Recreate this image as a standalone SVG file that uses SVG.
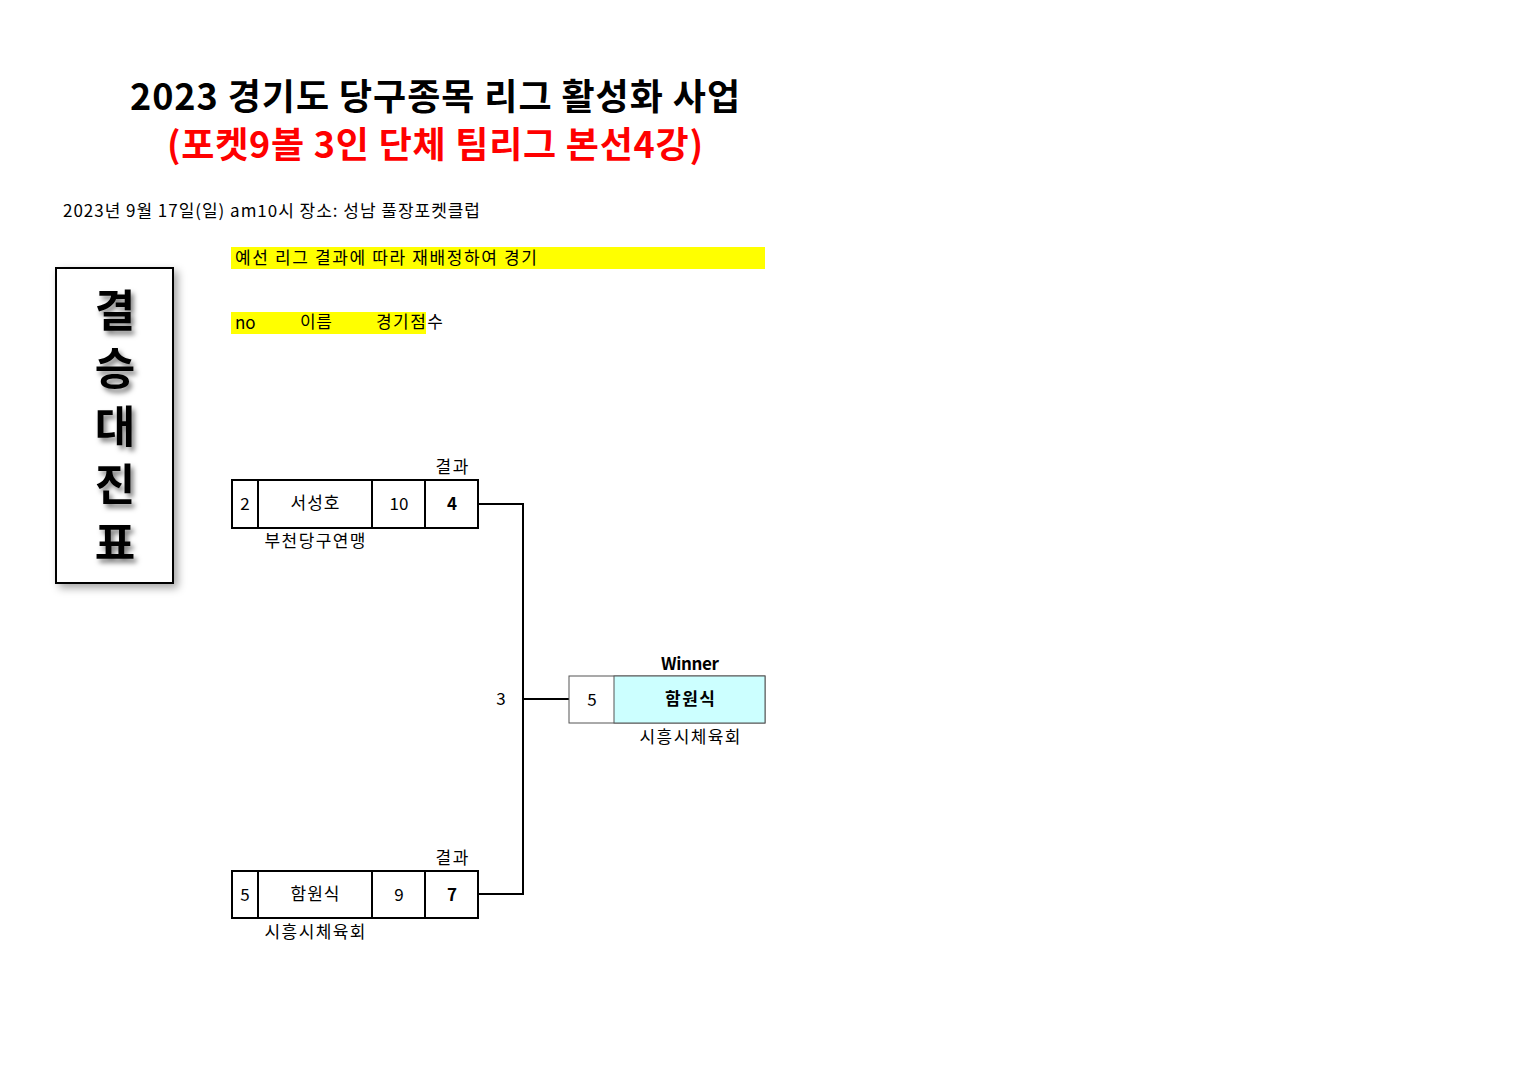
<svg xmlns="http://www.w3.org/2000/svg" width="1527" height="1080" viewBox="0 0 1527 1080">
<style>
text{font-family:"Noto Sans CJK KR","Noto Sans",sans-serif;fill:#000}
.t{font-size:17px}
.c{text-anchor:middle}
.b{font-weight:bold}
.box{fill:#fff;stroke:#000;stroke-width:2}
.ln{fill:none;stroke:#000;stroke-width:2}
.yl{fill:#ffff00}
</style>
<defs>
<filter id="sh" x="-20%" y="-20%" width="150%" height="150%">
<feDropShadow dx="4" dy="4" stdDeviation="4" flood-color="#000" flood-opacity="0.35"/>
</filter>
<filter id="tsh" x="-50%" y="-20%" width="200%" height="140%">
<feDropShadow dx="3" dy="4" stdDeviation="2.5" flood-color="#000" flood-opacity="0.5"/>
</filter>
</defs>
<rect width="1527" height="1080" fill="#fff"/>
<g id="title">
<text x="130" y="110" class="b" font-size="36" textLength="610" lengthAdjust="spacing">2023 경기도 당구종목 리그 활성화 사업</text>
<text x="167" y="158" class="b" font-size="36" style="fill:#ff0000" textLength="536" lengthAdjust="spacing">(포켓9볼 3인 단체 팀리그 본선4강)</text>
<text x="63" y="217" class="t" textLength="417" lengthAdjust="spacing">2023년 9월 17일(일) am10시  장소: 성남 풀장포켓클럽</text>
</g>
<g id="notes">
<rect x="231" y="247" width="534" height="22" class="yl"/>
<text x="235" y="264" class="t" textLength="302" lengthAdjust="spacing">예선 리그 결과에 따라 재배정하여 경기</text>
<rect x="231" y="312" width="195" height="22" class="yl"/>
<text x="235" y="329" class="t">no</text>
<text x="300" y="328" class="t" textLength="32" lengthAdjust="spacing">이름</text>
<text x="376" y="328" class="t" textLength="67" lengthAdjust="spacing">경기점수</text>
</g>
<g id="label">
<rect x="56" y="268" width="117" height="315" fill="#fff" stroke="#000" stroke-width="2" filter="url(#sh)"/>
<text x="115" y="288" class="b" font-size="44" writing-mode="tb" letter-spacing="14" filter="url(#tsh)">결승대진표</text>
</g>
<g id="connectors">
<polyline points="478,504 523,504 523,894 478,894" class="ln"/>
<line x1="523" y1="699" x2="569" y2="699" class="ln"/>
<text x="501" y="705" class="t c">3</text>
</g>
<g id="match1">
<text x="452" y="473" class="t c" textLength="33" lengthAdjust="spacing">결과</text>
<rect x="232" y="480" width="246" height="48" class="box"/>
<line x1="258" y1="480" x2="258" y2="528" class="ln"/>
<line x1="372" y1="480" x2="372" y2="528" class="ln"/>
<line x1="425" y1="480" x2="425" y2="528" class="ln"/>
<text x="245" y="510" class="t c">2</text>
<text x="315" y="509" class="t c" textLength="49" lengthAdjust="spacing">서성호</text>
<text x="399" y="510" class="t c">10</text>
<text x="452" y="510" class="t c b">4</text>
<text x="315" y="547" class="t c" textLength="101" lengthAdjust="spacing">부천당구연맹</text>
</g>
<g id="match2">
<text x="452" y="864" class="t c" textLength="33" lengthAdjust="spacing">결과</text>
<rect x="232" y="871" width="246" height="47" class="box"/>
<line x1="258" y1="871" x2="258" y2="918" class="ln"/>
<line x1="372" y1="871" x2="372" y2="918" class="ln"/>
<line x1="425" y1="871" x2="425" y2="918" class="ln"/>
<text x="245" y="901" class="t c">5</text>
<text x="315" y="900" class="t c" textLength="49" lengthAdjust="spacing">함원식</text>
<text x="399" y="901" class="t c">9</text>
<text x="452" y="901" class="t c b">7</text>
<text x="315" y="938" class="t c" textLength="101" lengthAdjust="spacing">시흥시체육회</text>
</g>
<g id="winner">
<text x="690" y="670" class="t c b" textLength="58" lengthAdjust="spacing">Winner</text>
<rect x="569" y="676" width="196" height="47" fill="#fff" stroke="#555" stroke-width="1"/>
<rect x="614" y="676" width="151" height="47" fill="#ccffff" stroke="#555" stroke-width="1"/>
<text x="592" y="706" class="t c">5</text>
<text x="690" y="705" class="t c b" textLength="50" lengthAdjust="spacing">함원식</text>
<text x="690" y="743" class="t c" textLength="101" lengthAdjust="spacing">시흥시체육회</text>
</g>
</svg>
